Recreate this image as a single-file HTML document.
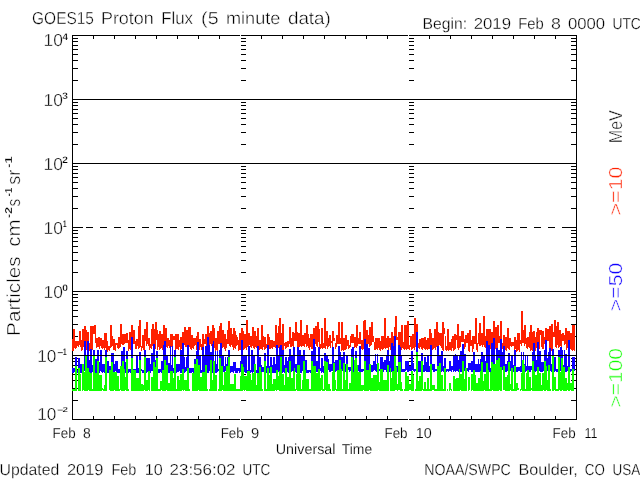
<!DOCTYPE html>
<html lang="en">
<head>
<meta charset="utf-8">
<title>GOES15 Proton Flux (5 minute data)</title>
<style>
html,body{margin:0;padding:0;background:#fff;overflow:hidden}
svg{display:block}
text{font-family:"Liberation Sans",sans-serif;white-space:pre;stroke:#fff;text-rendering:geometricPrecision}
.e{stroke-width:0.25px;font-weight:bold}
.l{fill:none;stroke:#000;stroke-width:1;shape-rendering:crispEdges}
.d{fill:none;stroke-width:1;shape-rendering:crispEdges}
</style>
</head>
<body>
<svg width="640" height="480" viewBox="0 0 640 480">
<rect width="640" height="480" fill="#fff"/>
<path class="l" d="M72 35.5H577M72 419.5H577M72.5 35V420M576.5 35V420M93.5 35V39M93.5 416V420M114.5 35V39M114.5 416V420M135.5 35V39M135.5 416V420M156.5 35V39M156.5 416V420M177.5 35V39M177.5 416V420M198.5 35V39M198.5 416V420M219.5 35V39M219.5 416V420M261.5 35V39M261.5 416V420M282.5 35V39M282.5 416V420M303.5 35V39M303.5 416V420M324.5 35V39M324.5 416V420M345.5 35V39M345.5 416V420M366.5 35V39M366.5 416V420M387.5 35V39M387.5 416V420M429.5 35V39M429.5 416V420M450.5 35V39M450.5 416V420M471.5 35V39M471.5 416V420M492.5 35V39M492.5 416V420M513.5 35V39M513.5 416V420M534.5 35V39M534.5 416V420M555.5 35V39M555.5 416V420M72 400.5H78M571 400.5H577M241 400.5H246M409 400.5H414M72 388.5H78M571 388.5H577M241 388.5H246M409 388.5H414M72 380.5H78M571 380.5H577M241 380.5H246M409 380.5H414M72 374.5H78M571 374.5H577M241 374.5H246M409 374.5H414M72 369.5H78M571 369.5H577M241 369.5H246M409 369.5H414M72 365.5H78M571 365.5H577M241 365.5H246M409 365.5H414M72 361.5H78M571 361.5H577M241 361.5H246M409 361.5H414M72 358.5H78M571 358.5H577M241 358.5H246M409 358.5H414M72 336.5H78M571 336.5H577M241 336.5H246M409 336.5H414M72 324.5H78M571 324.5H577M241 324.5H246M409 324.5H414M72 316.5H78M571 316.5H577M241 316.5H246M409 316.5H414M72 310.5H78M571 310.5H577M241 310.5H246M409 310.5H414M72 305.5H78M571 305.5H577M241 305.5H246M409 305.5H414M72 301.5H78M571 301.5H577M241 301.5H246M409 301.5H414M72 297.5H78M571 297.5H577M241 297.5H246M409 297.5H414M72 294.5H78M571 294.5H577M241 294.5H246M409 294.5H414M72 272.5H78M571 272.5H577M241 272.5H246M409 272.5H414M72 260.5H78M571 260.5H577M241 260.5H246M409 260.5H414M72 252.5H78M571 252.5H577M241 252.5H246M409 252.5H414M72 246.5H78M571 246.5H577M241 246.5H246M409 246.5H414M72 241.5H78M571 241.5H577M241 241.5H246M409 241.5H414M72 237.5H78M571 237.5H577M241 237.5H246M409 237.5H414M72 233.5H78M571 233.5H577M241 233.5H246M409 233.5H414M72 230.5H78M571 230.5H577M241 230.5H246M409 230.5H414M72 208.5H78M571 208.5H577M241 208.5H246M409 208.5H414M72 196.5H78M571 196.5H577M241 196.5H246M409 196.5H414M72 188.5H78M571 188.5H577M241 188.5H246M409 188.5H414M72 182.5H78M571 182.5H577M241 182.5H246M409 182.5H414M72 177.5H78M571 177.5H577M241 177.5H246M409 177.5H414M72 173.5H78M571 173.5H577M241 173.5H246M409 173.5H414M72 169.5H78M571 169.5H577M241 169.5H246M409 169.5H414M72 166.5H78M571 166.5H577M241 166.5H246M409 166.5H414M72 144.5H78M571 144.5H577M241 144.5H246M409 144.5H414M72 132.5H78M571 132.5H577M241 132.5H246M409 132.5H414M72 124.5H78M571 124.5H577M241 124.5H246M409 124.5H414M72 118.5H78M571 118.5H577M241 118.5H246M409 118.5H414M72 113.5H78M571 113.5H577M241 113.5H246M409 113.5H414M72 109.5H78M571 109.5H577M241 109.5H246M409 109.5H414M72 105.5H78M571 105.5H577M241 105.5H246M409 105.5H414M72 102.5H78M571 102.5H577M241 102.5H246M409 102.5H414M72 80.5H78M571 80.5H577M241 80.5H246M409 80.5H414M72 68.5H78M571 68.5H577M241 68.5H246M409 68.5H414M72 60.5H78M571 60.5H577M241 60.5H246M409 60.5H414M72 54.5H78M571 54.5H577M241 54.5H246M409 54.5H414M72 49.5H78M571 49.5H577M241 49.5H246M409 49.5H414M72 45.5H78M571 45.5H577M241 45.5H246M409 45.5H414M72 41.5H78M571 41.5H577M241 41.5H246M409 41.5H414M72 38.5H78M571 38.5H577M241 38.5H246M409 38.5H414M72 99.5H577M72 163.5H577M72 291.5H577M72 355.5H577"/>
<path class="l" style="stroke:#fff" d="M240.5 35V36M240.5 419V420M408.5 35V36M408.5 419V420"/>
<path class="l" d="M72 227.5H83M566 227.5H577M72 227.5H79M86 227.5H93M100 227.5H107M114 227.5H121M128 227.5H135M142 227.5H149M156 227.5H163M170 227.5H177M184 227.5H191M198 227.5H205M212 227.5H219M226 227.5H233M240 227.5H247M254 227.5H261M268 227.5H275M282 227.5H289M296 227.5H303M310 227.5H317M324 227.5H331M338 227.5H345M352 227.5H359M366 227.5H373M380 227.5H387M394 227.5H401M408 227.5H415M422 227.5H429M436 227.5H443M450 227.5H457M464 227.5H471M478 227.5H485M492 227.5H499M506 227.5H513M520 227.5H527M534 227.5H541M548 227.5H555M562 227.5H569M576 227.5H577"/>
<path class="d" stroke="#ff2000" d="M72.5 339V351M73.5 329V351M74.5 329V348M75.5 341V349M76.5 341V348M77.5 341V346M78.5 341V347M79.5 331V345M80.5 331V347M81.5 340V351M82.5 329V350M83.5 329V347M84.5 326V347M85.5 326V349M86.5 330V350M87.5 332V348M88.5 332V349M89.5 343V351M90.5 326V350M91.5 326V351M92.5 326V350M93.5 326V334M94.5 325V334M95.5 325V343M96.5 338V348M97.5 338V347M98.5 337V347M99.5 337V349M100.5 338V346M101.5 338V348M102.5 340V349M103.5 340V348M104.5 333V350M105.5 333V348M106.5 333V350M107.5 341V352M108.5 346V350M109.5 346V351M110.5 325V348M111.5 325V347M112.5 336V346M113.5 339V350M114.5 339V350M115.5 343V351M116.5 343V345M117.5 343V348M118.5 337V349M119.5 337V348M120.5 324V347M121.5 324V344M122.5 334V345M123.5 334V345M124.5 334V344M125.5 334V343M126.5 333V343M127.5 333V343M128.5 340V351M129.5 332V349M130.5 332V350M131.5 325V350M132.5 325V349M133.5 330V344M134.5 330V344M135.5 341V349M136.5 339V349M137.5 339V346M138.5 326V349M139.5 320V348M140.5 320V347M141.5 346V351M142.5 335V348M143.5 335V350M144.5 329V350M145.5 329V341M146.5 322V346M147.5 322V344M148.5 338V346M149.5 338V350M150.5 344V348M151.5 329V349M152.5 324V346M153.5 324V345M154.5 329V346M155.5 322V349M156.5 322V340M157.5 330V350M158.5 334V347M159.5 331V350M160.5 331V349M161.5 334V348M162.5 334V350M163.5 325V347M164.5 325V349M165.5 328V349M166.5 328V347M167.5 338V348M168.5 338V346M169.5 340V348M170.5 334V349M171.5 334V347M172.5 334V348M173.5 336V340M174.5 336V340M175.5 334V350M176.5 334V349M177.5 334V349M178.5 334V350M179.5 340V347M180.5 337V350M181.5 337V349M182.5 332V348M183.5 332V350M184.5 327V345M185.5 327V347M186.5 330V347M187.5 330V346M188.5 327V347M189.5 327V347M190.5 327V349M191.5 335V350M192.5 335V348M193.5 338V349M194.5 338V346M195.5 338V345M196.5 336V350M197.5 332V349M198.5 332V349M199.5 339V350M200.5 339V347M201.5 344V350M202.5 334V349M203.5 334V348M204.5 339V344M205.5 334V344M206.5 334V348M207.5 326V348M208.5 326V347M209.5 333V348M210.5 331V344M211.5 331V346M212.5 325V349M213.5 325V347M214.5 328V348M215.5 338V351M216.5 338V350M217.5 331V351M218.5 331V344M219.5 326V344M220.5 323V348M221.5 323V345M222.5 330V348M223.5 330V347M224.5 334V349M225.5 334V351M226.5 339V348M227.5 330V344M228.5 321V344M229.5 321V346M230.5 328V347M231.5 328V345M232.5 334V347M233.5 328V350M234.5 328V348M235.5 331V349M236.5 335V346M237.5 337V345M238.5 340V351M239.5 333V350M240.5 333V350M241.5 328V351M242.5 328V348M243.5 331V350M244.5 334V349M245.5 334V348M246.5 320V350M247.5 320V347M248.5 333V349M249.5 333V345M250.5 336V347M251.5 336V348M252.5 327V346M253.5 327V348M254.5 331V349M255.5 331V347M256.5 336V348M257.5 328V349M258.5 328V348M259.5 340V350M260.5 340V349M261.5 325V349M262.5 325V350M263.5 336V347M264.5 337V350M265.5 337V349M266.5 344V348M267.5 334V350M268.5 334V347M269.5 337V349M270.5 340V349M271.5 340V348M272.5 340V349M273.5 341V347M274.5 341V347M275.5 325V348M276.5 325V346M277.5 333V347M278.5 326V348M279.5 318V347M280.5 318V348M281.5 333V347M282.5 324V350M283.5 324V351M284.5 343V346M285.5 342V349M286.5 342V348M287.5 341V347M288.5 341V347M289.5 327V344M290.5 327V347M291.5 338V347M292.5 332V346M293.5 332V347M294.5 333V341M295.5 322V341M296.5 322V341M297.5 332V347M298.5 333V348M299.5 333V347M300.5 320V346M301.5 320V347M302.5 335V346M303.5 335V346M304.5 333V347M305.5 333V344M306.5 325V347M307.5 325V346M308.5 334V348M309.5 338V350M310.5 334V347M311.5 334V349M312.5 334V349M313.5 328V348M314.5 328V349M315.5 326V344M316.5 326V346M317.5 322V347M318.5 322V342M319.5 329V348M320.5 344V349M321.5 328V348M322.5 328V349M323.5 343V348M324.5 318V348M325.5 318V349M326.5 331V346M327.5 331V349M328.5 338V347M329.5 335V346M330.5 335V348M331.5 341V343M332.5 331V348M333.5 331V341M334.5 338V341M335.5 343V349M336.5 335V347M337.5 335V344M338.5 322V344M339.5 322V344M340.5 338V344M341.5 322V351M342.5 322V350M343.5 338V351M344.5 338V350M345.5 335V350M346.5 335V349M347.5 340V346M348.5 340V349M349.5 345V348M350.5 336V347M351.5 334V343M352.5 334V343M353.5 334V343M354.5 337V348M355.5 337V347M356.5 325V348M357.5 325V346M358.5 338V344M359.5 332V344M360.5 332V344M361.5 340V349M362.5 340V350M363.5 321V349M364.5 320V350M365.5 320V349M366.5 330V349M367.5 330V350M368.5 335V344M369.5 327V347M370.5 327V346M371.5 322V345M372.5 322V342M373.5 336V342M374.5 342V350M375.5 338V350M376.5 338V349M377.5 338V350M378.5 338V348M379.5 338V350M380.5 341V351M381.5 336V349M382.5 336V350M383.5 336V349M384.5 318V348M385.5 318V349M386.5 338V348M387.5 336V348M388.5 336V350M389.5 338V347M390.5 338V350M391.5 332V349M392.5 332V348M393.5 336V350M394.5 327V347M395.5 316V349M396.5 316V340M397.5 337V340M398.5 332V349M399.5 332V347M400.5 332V349M401.5 325V350M402.5 325V348M403.5 342V349M404.5 325V350M405.5 325V349M406.5 325V350M407.5 321V349M408.5 321V349M409.5 345V350M410.5 336V347M411.5 336V350M412.5 334V349M413.5 334V348M414.5 318V350M415.5 318V347M416.5 324V349M417.5 324V349M418.5 343V348M419.5 339V349M420.5 339V347M421.5 338V349M422.5 338V350M423.5 338V348M424.5 337V349M425.5 337V350M426.5 340V349M427.5 338V350M428.5 338V349M429.5 329V349M430.5 329V350M431.5 333V347M432.5 338V350M433.5 338V349M434.5 329V348M435.5 329V350M436.5 322V347M437.5 322V349M438.5 332V349M439.5 333V345M440.5 333V346M441.5 333V348M442.5 322V350M443.5 322V351M444.5 328V334M445.5 336V350M446.5 346V351M447.5 329V350M448.5 329V351M449.5 342V350M450.5 342V350M451.5 339V351M452.5 336V348M453.5 336V351M454.5 334V350M455.5 334V349M456.5 335V340M457.5 324V348M458.5 324V350M459.5 336V348M460.5 336V347M461.5 331V342M462.5 331V342M463.5 331V342M464.5 339V349M465.5 335V347M466.5 335V343M467.5 333V343M468.5 333V351M469.5 330V352M470.5 330V346M471.5 340V346M472.5 336V352M473.5 336V349M474.5 336V344M475.5 318V344M476.5 318V350M477.5 343V352M478.5 333V344M479.5 323V346M480.5 323V346M481.5 333V345M482.5 333V347M483.5 316V345M484.5 316V347M485.5 336V348M486.5 329V346M487.5 329V347M488.5 329V348M489.5 329V347M490.5 329V349M491.5 332V348M492.5 332V348M493.5 321V349M494.5 321V346M495.5 327V349M496.5 327V351M497.5 325V350M498.5 325V343M499.5 336V343M500.5 321V350M501.5 321V350M502.5 343V349M503.5 335V350M504.5 335V348M505.5 337V350M506.5 337V351M507.5 328V348M508.5 328V349M509.5 338V350M510.5 338V346M511.5 342V347M512.5 342V346M513.5 342V346M514.5 337V352M515.5 337V349M516.5 340V352M517.5 333V351M518.5 333V350M519.5 333V352M520.5 340V344M521.5 311V346M522.5 311V343M523.5 330V343M524.5 325V346M525.5 325V344M526.5 338V348M527.5 337V349M528.5 337V347M529.5 332V348M530.5 325V351M531.5 325V350M532.5 332V351M533.5 331V350M534.5 331V350M535.5 337V351M536.5 332V348M537.5 328V351M538.5 328V350M539.5 330V349M540.5 330V335M541.5 330V347M542.5 331V349M543.5 331V349M544.5 337V344M545.5 328V344M546.5 328V344M547.5 329V341M548.5 329V341M549.5 326V349M550.5 326V350M551.5 324V351M552.5 324V350M553.5 332V337M554.5 320V337M555.5 320V347M556.5 326V348M557.5 322V345M558.5 322V348M559.5 330V347M560.5 330V346M561.5 334V348M562.5 333V341M563.5 333V341M564.5 335V345M565.5 328V344M566.5 328V350M567.5 331V348M568.5 331V350M569.5 331V351M570.5 333V349M571.5 333V350M572.5 325V351M573.5 325V350M574.5 325V351"/>
<path class="d" stroke="#1000ff" d="M72.5 368V373M73.5 368V373M74.5 368V372M75.5 357V373M76.5 357V372M77.5 370V373M78.5 358V373M79.5 358V371M80.5 364V373M81.5 364V373M82.5 366V373M83.5 366V371M84.5 341V371M85.5 341V373M86.5 369V373M87.5 341V373M88.5 341V373M89.5 360V373M90.5 349V373M91.5 349V373M92.5 365V372M93.5 350V373M94.5 350V373M95.5 359V373M96.5 359V373M97.5 350V373M98.5 350V372M99.5 362V373M100.5 350V371M101.5 350V372M102.5 364V373M103.5 364V372M104.5 364V373M105.5 350V372M106.5 350V373M107.5 361V373M108.5 361V373M109.5 366V373M110.5 366V373M111.5 353V373M112.5 353V373M113.5 353V372M114.5 364V372M115.5 361V371M116.5 361V373M117.5 361V373M118.5 369V373M119.5 369V373M120.5 369V373M121.5 351V373M122.5 351V373M123.5 347V372M124.5 347V372M125.5 362V373M126.5 351V373M127.5 351V373M128.5 369V373M129.5 369V372M130.5 369V373M131.5 337V371M132.5 337V373M133.5 369V372M134.5 369V373M135.5 369V372M136.5 356V373M137.5 356V373M138.5 368V373M139.5 352V373M140.5 352V371M141.5 369V371M142.5 370V373M143.5 370V373M144.5 350V373M145.5 350V373M146.5 358V373M147.5 358V372M148.5 358V373M149.5 358V372M150.5 364V373M151.5 353V371M152.5 353V371M153.5 344V373M154.5 344V373M155.5 360V373M156.5 351V373M157.5 351V372M158.5 369V373M159.5 369V373M160.5 369V372M161.5 361V373M162.5 361V373M163.5 345V373M164.5 341V373M165.5 341V373M166.5 356V373M167.5 356V373M168.5 363V373M169.5 363V373M170.5 346V373M171.5 365V373M172.5 346V372M173.5 368V373M174.5 350V373M175.5 350V372M176.5 364V373M177.5 364V372M178.5 364V372M179.5 364V371M180.5 350V373M181.5 350V373M182.5 343V372M183.5 343V372M184.5 357V373M185.5 367V372M186.5 357V371M187.5 345V372M188.5 345V372M189.5 368V373M190.5 368V373M191.5 368V373M192.5 368V372M193.5 368V373M194.5 359V373M195.5 359V373M196.5 351V371M197.5 342V373M198.5 342V373M199.5 356V372M200.5 356V373M201.5 370V373M202.5 347V373M203.5 347V372M204.5 355V373M205.5 346V373M206.5 346V372M207.5 337V373M208.5 337V373M209.5 345V371M210.5 352V371M211.5 352V372M212.5 344V373M213.5 341V373M214.5 370V373M215.5 351V373M216.5 364V373M217.5 351V372M218.5 369V371M219.5 350V373M220.5 343V373M221.5 343V373M222.5 356V373M223.5 356V372M224.5 366V373M225.5 357V371M226.5 364V373M227.5 357V372M228.5 350V372M229.5 350V372M230.5 366V373M231.5 366V372M232.5 366V372M233.5 362V373M234.5 362V371M235.5 362V373M236.5 368V373M237.5 368V373M238.5 368V371M239.5 368V373M240.5 361V372M241.5 340V371M242.5 340V372M243.5 355V373M244.5 355V372M245.5 355V373M246.5 355V373M247.5 370V373M248.5 346V372M249.5 346V373M250.5 370V373M251.5 350V372M252.5 350V373M253.5 356V372M254.5 356V371M255.5 368V372M256.5 370V373M257.5 346V373M258.5 346V373M259.5 357V373M260.5 357V373M261.5 365V373M262.5 367V372M263.5 367V372M264.5 353V373M265.5 353V372M266.5 366V373M267.5 345V373M268.5 345V373M269.5 366V373M270.5 357V372M271.5 357V373M272.5 365V373M273.5 357V373M274.5 357V373M275.5 364V373M276.5 345V371M277.5 345V371M278.5 356V372M279.5 347V373M280.5 345V373M281.5 345V373M282.5 350V373M283.5 350V372M284.5 365V373M285.5 357V373M286.5 357V373M287.5 361V372M288.5 357V373M289.5 349V372M290.5 349V373M291.5 356V372M292.5 356V371M293.5 347V373M294.5 347V371M295.5 364V372M296.5 364V373M297.5 347V373M298.5 347V372M299.5 350V372M300.5 350V373M301.5 356V373M302.5 356V371M303.5 350V373M304.5 350V373M305.5 360V373M306.5 360V373M307.5 370V373M308.5 370V373M309.5 370V372M310.5 370V373M311.5 351V372M312.5 351V373M313.5 339V373M314.5 339V373M315.5 347V373M316.5 361V372M317.5 361V372M318.5 347V373M319.5 347V373M320.5 368V371M321.5 358V373M322.5 358V372M323.5 366V373M324.5 353V372M325.5 353V372M326.5 355V373M327.5 355V371M328.5 359V370M329.5 364V372M330.5 364V372M331.5 364V371M332.5 347V371M333.5 347V372M334.5 362V371M335.5 360V372M336.5 360V371M337.5 360V370M338.5 346V371M339.5 346V372M340.5 352V372M341.5 357V372M342.5 357V371M343.5 352V372M344.5 352V372M345.5 364V372M346.5 356V372M347.5 356V372M348.5 367V370M349.5 367V372M350.5 367V371M351.5 349V372M352.5 347V372M353.5 347V372M354.5 362V372M355.5 351V371M356.5 351V372M357.5 365V372M358.5 365V371M359.5 346V372M360.5 346V372M361.5 369V372M362.5 369V372M363.5 369V371M364.5 339V372M365.5 339V372M366.5 344V371M367.5 344V372M368.5 348V371M369.5 348V370M370.5 365V372M371.5 365V372M372.5 365V372M373.5 361V371M374.5 361V370M375.5 354V371M376.5 364V372M377.5 354V372M378.5 369V371M379.5 369V371M380.5 357V371M381.5 357V372M382.5 357V372M383.5 362V372M384.5 360V370M385.5 360V370M386.5 356V372M387.5 350V372M388.5 350V371M389.5 361V372M390.5 356V372M391.5 343V372M392.5 343V372M393.5 346V371M394.5 336V371M395.5 336V372M396.5 366V372M397.5 366V372M398.5 345V371M399.5 345V370M400.5 347V372M401.5 356V372M402.5 369V372M403.5 369V372M404.5 369V372M405.5 361V371M406.5 361V370M407.5 361V372M408.5 361V372M409.5 366V371M410.5 366V371M411.5 351V372M412.5 351V370M413.5 363V371M414.5 369V372M415.5 369V371M416.5 332V372M417.5 332V372M418.5 361V372M419.5 361V372M420.5 361V372M421.5 353V370M422.5 353V372M423.5 365V372M424.5 357V372M425.5 357V371M426.5 362V372M427.5 355V372M428.5 355V372M429.5 366V372M430.5 345V371M431.5 345V372M432.5 364V370M433.5 364V372M434.5 364V372M435.5 369V371M436.5 369V371M437.5 346V370M438.5 346V370M439.5 356V371M440.5 356V372M441.5 351V372M442.5 351V371M443.5 366V372M444.5 358V372M445.5 358V371M446.5 369V372M447.5 369V371M448.5 369V372M449.5 361V371M450.5 361V371M451.5 366V372M452.5 366V370M453.5 356V372M454.5 356V371M455.5 354V372M456.5 355V371M457.5 355V371M458.5 360V372M459.5 355V372M460.5 351V372M461.5 351V372M462.5 344V372M463.5 344V371M464.5 354V371M465.5 354V371M466.5 368V372M467.5 368V371M468.5 363V372M469.5 363V370M470.5 363V370M471.5 361V372M472.5 361V372M473.5 352V371M474.5 352V372M475.5 364V372M476.5 364V372M477.5 364V372M478.5 359V372M479.5 364V372M480.5 359V371M481.5 352V371M482.5 352V372M483.5 355V372M484.5 355V372M485.5 361V372M486.5 341V372M487.5 341V371M488.5 345V372M489.5 345V372M490.5 368V372M491.5 343V372M492.5 343V371M493.5 338V372M494.5 338V370M495.5 368V371M496.5 348V372M497.5 348V372M498.5 350V372M499.5 350V371M500.5 339V372M501.5 339V371M502.5 352V370M503.5 346V372M504.5 346V370M505.5 364V372M506.5 364V372M507.5 361V371M508.5 353V371M509.5 353V371M510.5 361V371M511.5 356V372M512.5 356V372M513.5 365V372M514.5 350V372M515.5 350V372M516.5 367V372M517.5 367V372M518.5 367V371M519.5 367V371M520.5 366V372M521.5 352V372M522.5 367V371M523.5 352V371M524.5 364V372M525.5 356V372M526.5 366V371M527.5 356V372M528.5 366V372M529.5 366V372M530.5 366V372M531.5 366V370M532.5 352V371M533.5 343V372M534.5 343V372M535.5 356V372M536.5 360V371M537.5 342V372M538.5 342V372M539.5 351V371M540.5 351V372M541.5 362V372M542.5 362V372M543.5 362V371M544.5 350V372M545.5 340V372M546.5 340V371M547.5 358V371M548.5 352V371M549.5 348V372M550.5 348V371M551.5 364V372M552.5 349V372M553.5 349V371M554.5 357V372M555.5 357V371M556.5 369V372M557.5 369V372M558.5 350V371M559.5 350V372M560.5 347V371M561.5 347V372M562.5 350V371M563.5 365V372M564.5 350V371M565.5 354V372M566.5 354V372M567.5 366V371M568.5 340V371M569.5 340V370M570.5 369V372M571.5 369V371M572.5 357V371M573.5 357V372M574.5 357V371"/>
<path class="d" stroke="#10ff00" d="M72.5 389V391M73.5 389V391M74.5 389V391M75.5 366V391M76.5 366V391M78.5 368V391M79.5 368V391M80.5 374V391M82.5 364V391M83.5 364V390M84.5 372V391M85.5 356V391M86.5 356V391M87.5 368V391M88.5 368V390M89.5 372V391M90.5 373V391M91.5 373V391M92.5 389V391M93.5 356V391M94.5 356V391M95.5 373V391M96.5 373V391M97.5 361V391M98.5 361V391M99.5 375V391M100.5 375V391M101.5 375V391M102.5 388V390M103.5 389V391M104.5 385V391M105.5 357V391M106.5 357V391M109.5 370V390M110.5 370V391M111.5 362V391M112.5 362V391M113.5 372V391M114.5 372V390M115.5 372V391M116.5 372V391M117.5 376V391M118.5 376V391M119.5 389V391M120.5 366V390M121.5 366V391M122.5 361V391M123.5 361V391M124.5 369V391M125.5 377V390M126.5 359V391M127.5 359V391M128.5 389V391M131.5 358V391M132.5 358V391M133.5 370V391M134.5 370V391M135.5 370V391M136.5 378V391M137.5 378V391M138.5 378V391M139.5 360V391M140.5 360V391M141.5 384V391M142.5 384V391M143.5 385V391M144.5 357V390M145.5 357V391M146.5 380V391M147.5 380V391M148.5 371V390M149.5 371V391M151.5 377V391M152.5 377V391M153.5 362V391M154.5 362V391M155.5 367V391M156.5 358V391M157.5 358V391M158.5 389V391M159.5 389V391M160.5 381V391M161.5 381V390M162.5 370V391M163.5 370V391M164.5 360V391M165.5 360V391M166.5 365V390M167.5 365V391M168.5 383V391M169.5 383V391M170.5 371V391M171.5 371V391M172.5 371V391M173.5 378V391M174.5 357V391M175.5 357V391M176.5 389V391M177.5 376V391M178.5 376V391M179.5 380V391M180.5 374V391M181.5 374V391M182.5 369V390M183.5 369V391M184.5 380V390M185.5 380V391M186.5 380V391M187.5 368V391M188.5 368V391M189.5 389V391M192.5 373V391M193.5 373V391M194.5 364V391M195.5 364V391M196.5 359V391M197.5 359V391M198.5 365V390M199.5 365V391M200.5 377V391M201.5 377V391M202.5 372V391M203.5 372V391M204.5 372V391M205.5 365V391M206.5 365V391M207.5 389V391M209.5 389V391M210.5 360V391M211.5 360V391M212.5 380V391M213.5 361V391M214.5 361V391M215.5 375V391M216.5 375V391M218.5 389V391M219.5 358V391M220.5 358V391M221.5 366V391M222.5 366V390M223.5 385V391M224.5 372V391M225.5 372V391M226.5 366V391M227.5 366V391M228.5 357V391M229.5 357V391M230.5 384V391M231.5 384V391M232.5 384V391M233.5 384V391M234.5 374V391M235.5 374V391M236.5 389V391M237.5 389V391M238.5 389V391M239.5 389V391M240.5 376V391M241.5 364V391M242.5 364V391M243.5 367V390M244.5 376V391M245.5 376V390M246.5 376V391M247.5 371V391M248.5 371V391M249.5 371V391M250.5 374V391M251.5 380V391M252.5 373V391M253.5 373V391M254.5 364V391M255.5 364V391M256.5 385V391M257.5 373V391M258.5 373V391M259.5 367V391M260.5 367V391M261.5 372V391M262.5 389V391M264.5 361V391M265.5 361V391M266.5 389V391M267.5 368V391M268.5 368V391M269.5 375V391M270.5 367V391M271.5 367V391M272.5 384V391M273.5 379V391M274.5 379V391M275.5 379V390M276.5 370V391M277.5 370V390M278.5 376V390M279.5 371V391M280.5 357V391M281.5 357V391M282.5 374V391M283.5 374V391M284.5 385V391M285.5 368V391M286.5 368V391M287.5 377V391M288.5 377V391M289.5 361V391M290.5 361V391M291.5 378V391M292.5 378V391M293.5 371V391M294.5 368V391M295.5 389V391M296.5 374V390M297.5 365V391M298.5 365V391M299.5 365V391M300.5 374V391M301.5 389V391M302.5 380V391M303.5 361V391M304.5 361V391M305.5 370V391M306.5 379V391M307.5 379V391M308.5 379V391M309.5 389V391M310.5 389V391M311.5 361V391M312.5 361V391M313.5 366V391M314.5 366V391M315.5 366V391M316.5 373V391M317.5 373V391M318.5 369V391M319.5 369V391M320.5 378V391M321.5 375V390M322.5 375V391M323.5 389V391M324.5 361V391M325.5 361V390M326.5 362V391M327.5 362V391M328.5 384V391M329.5 384V391M330.5 389V391M332.5 372V391M333.5 363V391M334.5 363V391M335.5 380V390M336.5 389V391M337.5 370V391M338.5 370V391M339.5 360V391M340.5 360V391M341.5 369V391M342.5 389V391M343.5 363V391M344.5 363V391M345.5 380V391M346.5 364V391M347.5 364V391M348.5 389V391M349.5 383V391M350.5 383V391M351.5 357V391M352.5 357V391M353.5 372V391M354.5 360V391M355.5 358V391M356.5 358V391M357.5 365V391M358.5 372V391M359.5 372V391M360.5 372V391M361.5 385V391M362.5 385V391M363.5 385V390M364.5 361V391M365.5 361V391M366.5 370V391M367.5 370V391M368.5 370V391M369.5 364V390M370.5 364V391M371.5 378V391M372.5 378V391M373.5 375V391M374.5 375V391M375.5 375V391M376.5 375V391M377.5 363V391M378.5 363V390M379.5 382V391M380.5 369V391M381.5 369V391M382.5 369V391M383.5 380V391M384.5 380V391M385.5 380V391M386.5 380V391M387.5 365V391M388.5 365V391M390.5 368V391M391.5 378V391M392.5 371V391M393.5 371V391M394.5 356V391M395.5 356V390M396.5 367V390M397.5 384V391M398.5 362V390M399.5 362V390M400.5 362V391M401.5 382V391M402.5 389V391M404.5 389V391M405.5 372V391M406.5 372V391M407.5 376V391M408.5 376V391M409.5 384V390M410.5 384V390M411.5 371V391M412.5 371V391M413.5 375V391M415.5 389V391M416.5 352V391M417.5 352V391M418.5 381V391M419.5 376V391M420.5 376V391M421.5 361V391M422.5 361V390M423.5 389V391M424.5 382V391M425.5 382V391M426.5 389V391M427.5 378V391M428.5 378V391M429.5 389V391M430.5 364V391M431.5 364V391M432.5 385V390M433.5 385V390M434.5 385V391M435.5 389V391M436.5 389V391M437.5 366V391M438.5 366V391M439.5 363V391M440.5 363V391M441.5 375V391M442.5 375V391M443.5 389V391M444.5 368V391M445.5 368V391M447.5 389V391M449.5 383V391M450.5 383V390M451.5 389V391M453.5 376V391M454.5 376V391M455.5 379V391M456.5 378V391M457.5 378V391M458.5 378V391M459.5 369V391M460.5 374V390M461.5 374V391M462.5 361V391M463.5 361V391M464.5 379V391M465.5 368V391M466.5 368V391M468.5 377V391M469.5 377V390M471.5 374V391M472.5 374V390M473.5 370V391M474.5 370V391M475.5 375V391M476.5 383V391M477.5 383V391M478.5 378V391M479.5 378V391M480.5 371V391M481.5 362V391M482.5 362V391M483.5 381V391M484.5 374V390M485.5 374V391M486.5 363V391M487.5 363V391M488.5 370V391M489.5 389V391M490.5 372V391M491.5 362V391M492.5 362V390M493.5 364V391M494.5 364V391M495.5 364V391M496.5 360V391M497.5 360V391M498.5 358V391M499.5 358V390M500.5 367V391M501.5 367V391M503.5 366V390M504.5 366V390M505.5 377V391M506.5 377V391M507.5 375V391M508.5 362V391M509.5 362V391M510.5 384V390M511.5 368V391M512.5 368V391M513.5 389V391M514.5 366V391M515.5 366V391M516.5 383V391M517.5 383V390M518.5 388V390M520.5 389V391M521.5 373V390M522.5 360V391M523.5 360V391M524.5 365V391M525.5 389V391M526.5 373V391M527.5 370V391M528.5 370V391M529.5 377V391M530.5 377V391M531.5 388V390M532.5 361V391M533.5 361V391M534.5 371V391M535.5 375V391M536.5 375V391M537.5 367V391M538.5 367V391M539.5 373V391M540.5 373V391M541.5 385V391M542.5 373V391M543.5 373V390M544.5 361V391M545.5 361V391M546.5 366V390M547.5 380V391M548.5 365V391M549.5 365V391M550.5 389V391M552.5 356V391M553.5 356V391M554.5 377V390M555.5 377V391M556.5 389V391M557.5 389V391M558.5 357V391M559.5 357V390M560.5 372V391M561.5 358V391M562.5 358V390M563.5 367V391M564.5 367V391M565.5 378V391M566.5 378V391M567.5 383V390M568.5 367V391M569.5 367V391M570.5 383V390M571.5 383V391M572.5 369V391M573.5 369V391"/>
<path class="l" d="M72 355.5H577"/>
<text font-size="17.39" stroke-width="0.4"><tspan x="32.11" y="24" textLength="61.82" lengthAdjust="spacingAndGlyphs">GOES15</tspan> <tspan x="100.95" y="24" textLength="52.80" lengthAdjust="spacingAndGlyphs">Proton</tspan> <tspan x="161.20" y="24" textLength="31.85" lengthAdjust="spacingAndGlyphs">Flux</tspan> <tspan x="201.08" y="24" textLength="17.49" lengthAdjust="spacingAndGlyphs">(5</tspan> <tspan x="225.94" y="24" textLength="54.41" lengthAdjust="spacingAndGlyphs">minute</tspan> <tspan x="287.92" y="24" textLength="42.96" lengthAdjust="spacingAndGlyphs">data)</tspan></text>
<text font-size="15.94" stroke-width="0.3"><tspan x="422.52" y="29" textLength="44.56" lengthAdjust="spacingAndGlyphs">Begin:</tspan> <tspan x="473.70" y="29" textLength="37.32" lengthAdjust="spacingAndGlyphs">2019</tspan> <tspan x="518.20" y="29" textLength="25.56" lengthAdjust="spacingAndGlyphs">Feb</tspan> <tspan x="551.06" y="29" textLength="9.92" lengthAdjust="spacingAndGlyphs">8</tspan> <tspan x="567.96" y="29" textLength="37.19" lengthAdjust="spacingAndGlyphs">0000</tspan> <tspan x="612.45" y="29" textLength="28.43" lengthAdjust="spacingAndGlyphs">UTC</tspan></text>
<text font-size="15.94" stroke-width="0.3"><tspan x="-0.49" y="475" textLength="59.74" lengthAdjust="spacingAndGlyphs">Updated</tspan> <tspan x="66.97" y="475" textLength="36.53" lengthAdjust="spacingAndGlyphs">2019</tspan> <tspan x="111.39" y="475" textLength="24.86" lengthAdjust="spacingAndGlyphs">Feb</tspan> <tspan x="144.73" y="475" textLength="18.02" lengthAdjust="spacingAndGlyphs">10</tspan> <tspan x="169.54" y="475" textLength="65.98" lengthAdjust="spacingAndGlyphs">23:56:02</tspan> <tspan x="242.48" y="475" textLength="27.78" lengthAdjust="spacingAndGlyphs">UTC</tspan></text>
<text font-size="15.94" stroke-width="0.3"><tspan x="424.27" y="475" textLength="86.55" lengthAdjust="spacingAndGlyphs">NOAA/SWPC</tspan> <tspan x="518.48" y="475" textLength="59.27" lengthAdjust="spacingAndGlyphs">Boulder,</tspan> <tspan x="584.76" y="475" textLength="19.99" lengthAdjust="spacingAndGlyphs">CO</tspan> <tspan x="612.48" y="475" textLength="27.76" lengthAdjust="spacingAndGlyphs">USA</tspan></text>
<text font-size="14.49" stroke-width="0.19"><tspan x="52.60" y="438" textLength="23.07" lengthAdjust="spacingAndGlyphs">Feb</tspan> <tspan x="83.03" y="438" textLength="7.75" lengthAdjust="spacingAndGlyphs">8</tspan></text>
<text font-size="14.49" stroke-width="0.19"><tspan x="220.75" y="438" textLength="22.91" lengthAdjust="spacingAndGlyphs">Feb</tspan> <tspan x="251.14" y="438" textLength="8.19" lengthAdjust="spacingAndGlyphs">9</tspan></text>
<text font-size="14.49" stroke-width="0.19"><tspan x="384.44" y="438" textLength="23.12" lengthAdjust="spacingAndGlyphs">Feb</tspan> <tspan x="415.66" y="438" textLength="15.96" lengthAdjust="spacingAndGlyphs">10</tspan></text>
<text font-size="14.49" stroke-width="0.19"><tspan x="552.60" y="438" textLength="23.07" lengthAdjust="spacingAndGlyphs">Feb</tspan> <tspan x="584.51" y="438" textLength="13.08" lengthAdjust="spacingAndGlyphs">11</tspan></text>
<text font-size="14.49" stroke-width="0.19"><tspan x="275.76" y="454" textLength="59.75" lengthAdjust="spacingAndGlyphs">Universal</tspan> <tspan x="341.77" y="454" textLength="30.35" lengthAdjust="spacingAndGlyphs">Time</tspan></text>
<text font-size="17.39" stroke-width="0.4"><tspan x="43.50" y="46" textLength="19.33" lengthAdjust="spacingAndGlyphs">10</tspan><tspan x="62.49" y="40" class="e" font-size="9.42" textLength="5.51" lengthAdjust="spacingAndGlyphs">4</tspan></text>
<text font-size="17.39" stroke-width="0.4"><tspan x="43.50" y="106" textLength="19.33" lengthAdjust="spacingAndGlyphs">10</tspan><tspan x="62.36" y="99" class="e" font-size="9.42" textLength="5.67" lengthAdjust="spacingAndGlyphs">3</tspan></text>
<text font-size="17.39" stroke-width="0.4"><tspan x="43.50" y="170" textLength="19.33" lengthAdjust="spacingAndGlyphs">10</tspan><tspan x="62.36" y="163" class="e" font-size="9.42" textLength="5.67" lengthAdjust="spacingAndGlyphs">2</tspan></text>
<text font-size="17.39" stroke-width="0.4"><tspan x="43.50" y="234" textLength="19.33" lengthAdjust="spacingAndGlyphs">10</tspan><tspan x="62.84" y="227" class="e" font-size="9.42" textLength="3.93" lengthAdjust="spacingAndGlyphs">1</tspan></text>
<text font-size="17.39" stroke-width="0.4"><tspan x="43.50" y="298" textLength="19.33" lengthAdjust="spacingAndGlyphs">10</tspan><tspan x="62.36" y="291" class="e" font-size="9.42" textLength="5.67" lengthAdjust="spacingAndGlyphs">0</tspan></text>
<text font-size="17.39" stroke-width="0.4"><tspan x="37.26" y="362" textLength="19.16" lengthAdjust="spacingAndGlyphs">10</tspan><tspan x="56.85" y="355" class="e" font-size="9.42" textLength="7.22" lengthAdjust="spacingAndGlyphs">-</tspan><tspan x="62.63" y="355" class="e" font-size="9.42" textLength="3.99" lengthAdjust="spacingAndGlyphs">1</tspan></text>
<text font-size="17.39" stroke-width="0.4"><tspan x="37.26" y="420" textLength="19.16" lengthAdjust="spacingAndGlyphs">10</tspan><tspan x="56.47" y="412" class="e" font-size="7.25" textLength="7.43" lengthAdjust="spacingAndGlyphs">-</tspan><tspan x="62.52" y="412" class="e" font-size="7.25" textLength="5.53" lengthAdjust="spacingAndGlyphs">2</tspan></text>
<text font-size="18.84" stroke-width="0.5" transform="translate(20 480) rotate(-90)"><tspan x="144.07" y="0" textLength="79.48" lengthAdjust="spacingAndGlyphs">Particles</tspan> <tspan x="233.31" y="0" textLength="27.45" lengthAdjust="spacingAndGlyphs">cm</tspan><tspan x="261.88" y="-8" class="e" font-size="10.14" textLength="11.27" lengthAdjust="spacingAndGlyphs">-2</tspan><tspan x="273.59" y="0" textLength="7.66" lengthAdjust="spacingAndGlyphs">s</tspan><tspan x="283.50" y="-8" class="e" font-size="10.14" textLength="9.02" lengthAdjust="spacingAndGlyphs">-1</tspan> <tspan x="295.29" y="0" textLength="15.14" lengthAdjust="spacingAndGlyphs">sr</tspan><tspan x="312.38" y="-8" class="e" font-size="10.14" textLength="11.27" lengthAdjust="spacingAndGlyphs">-1</tspan></text>
<text font-size="18.84" stroke-width="0.5" transform="translate(622 480) rotate(-90)"><tspan x="336.81" y="0" textLength="33.00" lengthAdjust="spacingAndGlyphs">MeV</tspan></text>
<text font-size="18.84" fill="#ff2000" stroke-width="0.5" transform="translate(622 480) rotate(-90)"><tspan x="264.57" y="0" textLength="49.00" lengthAdjust="spacingAndGlyphs">&gt;=10</tspan></text>
<text font-size="18.84" fill="#1000ff" stroke-width="0.5" transform="translate(622 480) rotate(-90)"><tspan x="168.89" y="0" textLength="48.42" lengthAdjust="spacingAndGlyphs">&gt;=50</tspan></text>
<text font-size="18.84" fill="#10ff00" stroke-width="0.5" transform="translate(622 480) rotate(-90)"><tspan x="72.61" y="0" textLength="59.40" lengthAdjust="spacingAndGlyphs">&gt;=100</tspan></text>
</svg>
</body>
</html>
